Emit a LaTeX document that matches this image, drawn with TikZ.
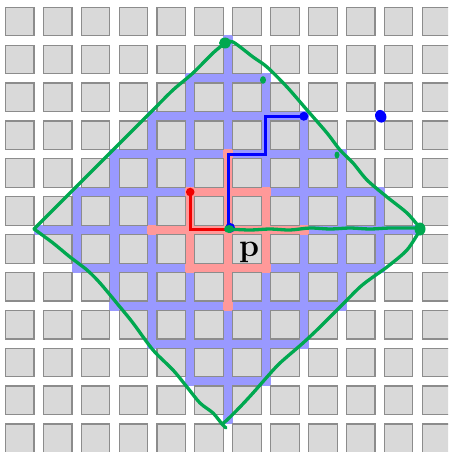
\documentclass[tikz,border=0pt]{standalone}
\definecolor{bandblue}{RGB}{153,153,255}
\definecolor{bandred}{RGB}{255,153,153}
\definecolor{pen}{RGB}{0,168,80}
\definecolor{sqfill}{RGB}{217,217,217}
\definecolor{sqline}{RGB}{140,140,140}
\definecolor{pathblue}{RGB}{0,0,255}
\definecolor{pathred}{RGB}{240,0,0}
\tikzset{
  sq/.style={draw=sqline, fill=sqfill, line width=1.2pt, minimum size=28.6pt, inner sep=0pt, outer sep=0pt},
  blueband/.style={draw=bandblue, line width=10pt, line cap=rect},
  redband/.style={draw=bandred, line width=10pt, line cap=rect},
  bluewalk/.style={draw=pathblue, line width=3pt, line join=miter},
  redwalk/.style={draw=pathred, line width=3pt, line join=miter},
  greenpen/.style={draw=pen, line width=3.3pt, line cap=round, line join=round},
}
\begin{document}
\begin{tikzpicture}[x=1pt,y=-1pt]
\fill[white] (0,0) rectangle (448,452);
\useasboundingbox (0,0) rectangle (448,452);
\clip (0,0) rectangle (448,452);
\begin{scope}[shift={(38.7,40.5)}, x=37.88pt, y=-37.88pt]
  \coordinate (p) at (5,5);
  \coordinate (bt) at (7,2);
  \coordinate (rt) at (4,4);
  \coordinate (lone) at (9,2);
  % blue diamond of streets (radius 5)
  \foreach \j in {0,...,10}{
    \pgfmathtruncatemacro\rr{5-abs(\j-5)}
    \draw[blueband] ({5-\rr},\j) -- ({5+\rr},\j);
    \draw[blueband] (\j,{5-\rr}) -- (\j,{5+\rr});
  }
  % red diamond (radius 2)
  \foreach \j in {3,...,7}{
    \pgfmathtruncatemacro\rr{2-abs(\j-5)}
    \draw[redband] ({5-\rr},\j) -- ({5+\rr},\j);
    \draw[redband] (\j,{5-\rr}) -- (\j,{5+\rr});
  }
  % gray blocks
  \foreach \c in {0,...,11}{
    \foreach \r in {0,...,11}{
      \node[sq] (sq-\c-\r) at ({\c-0.5},{\r-0.5}) {};
    }
  }
  % walks
  \draw[bluewalk] (p) -- (5,3) -- (6,3) -- (6,2) -- (bt);
  \draw[redwalk] (p) -- (4,5) -- (rt);
  \fill[pathblue] (bt) circle (4.5pt);
  \fill[pathred] (rt) circle (4.3pt);
  \fill[pathblue] (p) ++(2pt,2pt) circle (5pt);
  \fill[pathblue, rotate around={25:(lone)}] (lone) ++(1pt,-0.5pt) ellipse (5.5pt and 6.5pt);
\end{scope}
% hand-drawn green diamond
\draw[greenpen] plot[smooth, tension=0.5] coordinates {(225,43) (213,53) (193,73) (173,90) (153,110) (130,133) (113,150) (93,170) (73,190) (53,210) (34,229)};
\draw[greenpen] plot[smooth, tension=0.5] coordinates {(34,229) (53,243) (70,257) (87,270) (100,283) (120,307) (133,323) (153,350) (173,370) (187,387) (200,403) (213,413) (222,424) (226,428)};
\draw[greenpen] plot[smooth, tension=0.5] coordinates {(222,424) (227,420) (240,407) (253,393) (267,377) (280,363) (303,343) (320,327) (340,307) (360,287) (373,277) (387,267) (407,250) (420,230)};
\draw[greenpen] plot[smooth, tension=0.5] coordinates {(420,228) (407,213) (387,197) (367,180) (353,163) (340,150) (327,133) (307,110) (287,87) (267,67) (253,57) (233,42) (225,43)};
\draw[greenpen] plot[smooth, tension=0.5] coordinates {(228,229) (250,230) (270,229) (290,230) (310,228) (330,229) (350,228) (370,229) (390,228) (420,228)};
\fill[pen] (225,43) ellipse (6pt and 5.5pt);
\fill[pen] (420,229) ellipse (5.5pt and 6.5pt);
\fill[pen] (229,229) ellipse (5pt and 4pt);
\fill[pen] (263,80) ellipse (3pt and 3.8pt);
\fill[pen] (337,155) ellipse (2.5pt and 3.5pt);
\node[anchor=base, inner sep=0pt] (plabel) at (249,256) {\fontsize{32}{32}\selectfont\bfseries p};
\end{tikzpicture}
\end{document}
